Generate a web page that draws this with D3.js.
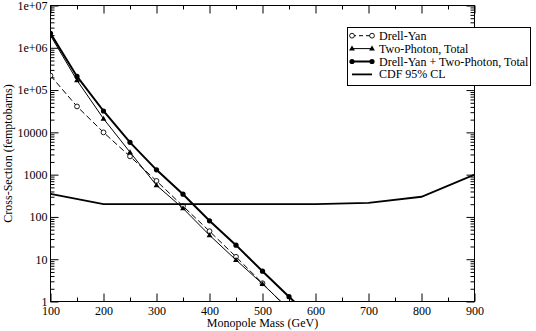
<!DOCTYPE html>
<html>
<head>
<meta charset="utf-8">
<script src="https://cdn.jsdelivr.net/npm/d3@7"></script>
<style>
  body { margin: 0; background: #fff; }
  svg { display: block; }
  text { font-family: "Liberation Serif", "Times New Roman", serif; font-size: 12px; fill: #000; }
</style>
</head>
<body>
<div class="chart"></div>
<script>
const width = 536,
      height = 331;

// monopole masses (GeV) and cross-sections (fb)
const masses    = [100, 150, 200, 250, 300, 350, 400, 450, 500, 550, 600];
const drellYan  = [2.2e5, 4.1e4, 1.0e4, 2.7e3, 710, 180, 46, 11.4, 2.7, 0.62];
const twoPhoton = [1.95e6, 1.7e5, 2.1e4, 3.4e3, 560, 160, 37, 9.6, 2.6, 0.66];
const combined  = [2.2e6, 2.1e5, 3.2e4, 5.8e3, 1.3e3, 345, 81, 21.5, 5.2, 1.3, 0.33];

const cdfMass  = [100, 200, 300, 400, 500, 600, 700, 800, 900];
const cdfLimit = [350, 200, 200, 200, 200, 200, 215, 300, 1000];

const xTicks = [100, 200, 300, 400, 500, 600, 700, 800, 900];
const yTicks = [1, 10, 100, 1000, 1e4, 1e5, 1e6, 1e7];
const legendLabels = ["Drell-Yan", "Two-Photon, Total", "Drell-Yan + Two-Photon, Total", "CDF 95% CL"];

const pLeft = 50.5, pRight = 474.5, pTop = 5.5, pBottom = 301.5;

const x = d3.scaleLinear().domain([100, 900]).range([pLeft, pRight]);
const y = d3.scaleLog().domain([1, 1e7]).range([pBottom, pTop]);

const svg = d3.select(".chart").append("svg")
  .attr("width", width)
  .attr("height", height);

svg.append("rect").attr("width", width).attr("height", height).attr("fill", "#fff");

svg.append("clipPath").attr("id", "plotclip")
  .append("rect")
  .attr("x", pLeft).attr("y", pTop)
  .attr("width", pRight - pLeft).attr("height", pBottom - pTop);

// minor ticks
const xMinor = d3.range(150, 900, 100);
const yMinor = [];
for (let e = 0; e < 7; e++) for (let k = 2; k <= 9; k++) yMinor.push(k * Math.pow(10, e));

function tickAxis(axis, transform) {
  const g = svg.append("g").attr("transform", transform).call(axis);
  g.attr("font-family", null).attr("font-size", null);
  g.select(".domain").remove();
  g.selectAll("line").attr("stroke", "#000");
  return g;
}

const yFormat = d => d >= 1e5 ? "1e+" + String(Math.round(Math.log10(d))).padStart(2, "0") : String(d);

// bottom
tickAxis(d3.axisBottom(x).tickValues(xTicks).tickSize(-8).tickPadding(5).tickFormat(d3.format("d")), `translate(0,${pBottom})`);
tickAxis(d3.axisBottom(x).tickValues(xMinor).tickSize(-4).tickFormat(""), `translate(0,${pBottom})`);
// top
tickAxis(d3.axisTop(x).tickValues(xTicks).tickSize(-8).tickFormat(""), `translate(0,${pTop})`);
tickAxis(d3.axisTop(x).tickValues(xMinor).tickSize(-4).tickFormat(""), `translate(0,${pTop})`);
// left
tickAxis(d3.axisLeft(y).tickValues(yTicks).tickSize(-8).tickPadding(3).tickFormat(yFormat), `translate(${pLeft},0)`);
tickAxis(d3.axisLeft(y).tickValues(yMinor).tickSize(-4).tickFormat(""), `translate(${pLeft},0)`);
// right
tickAxis(d3.axisRight(y).tickValues(yTicks).tickSize(-8).tickFormat(""), `translate(${pRight},0)`);
tickAxis(d3.axisRight(y).tickValues(yMinor).tickSize(-4).tickFormat(""), `translate(${pRight},0)`);

svg.append("rect")
  .attr("x", pLeft).attr("y", pTop)
  .attr("width", pRight - pLeft).attr("height", pBottom - pTop)
  .attr("fill", "none").attr("stroke", "#000");

// series
const plot = svg.append("g").attr("clip-path", "url(#plotclip)");
const line = d3.line().x(d => x(d[0])).y(d => y(d[1]));
const pairs = (xs, ys) => ys.map((v, i) => [xs[i], v]);

const series = [
  { data: pairs(masses, drellYan), width: 1, dash: "6,3", symbol: "open" },
  { data: pairs(masses, twoPhoton), width: 1, dash: null, symbol: "triangle" },
  { data: pairs(masses, combined), width: 2, dash: null, symbol: "dot" },
  { data: pairs(cdfMass, cdfLimit), width: 1.8, dash: null, symbol: null }
];

function drawSymbol(g, type, cx, cy) {
  if (type === "open") {
    g.append("circle").attr("cx", cx).attr("cy", cy).attr("r", 2.4)
      .attr("fill", "#fff").attr("stroke", "#000").attr("stroke-width", 0.9);
  } else if (type === "dot") {
    g.append("circle").attr("cx", cx).attr("cy", cy).attr("r", 2.6).attr("fill", "#000");
  } else if (type === "triangle") {
    g.append("path").attr("d", `M${cx},${cy - 3}L${cx + 2.9},${cy + 2}L${cx - 2.9},${cy + 2}Z`).attr("fill", "#000");
  }
}

series.forEach(s => {
  plot.append("path")
    .attr("d", line(s.data))
    .attr("fill", "none")
    .attr("stroke", "#000")
    .attr("stroke-width", s.width)
    .attr("stroke-dasharray", s.dash);
  if (s.symbol) s.data.forEach(d => drawSymbol(plot, s.symbol, x(d[0]), y(d[1])));
});

// axis titles
svg.append("text")
  .attr("x", (pLeft + pRight) / 2).attr("y", 327)
  .attr("text-anchor", "middle")
  .text("Monopole Mass (GeV)");

svg.append("text")
  .attr("transform", `translate(12,${(pTop + pBottom) / 2}) rotate(-90)`)
  .attr("text-anchor", "middle")
  .text("Cross-Section (femptobarns)");

// legend
const legend = svg.append("g");
legend.append("rect")
  .attr("x", 347.5).attr("y", 27.5).attr("width", 183).attr("height", 58)
  .attr("fill", "#fff").attr("stroke", "#000");

legendLabels.forEach((label, i) => {
  const cy = 35.7 + i * 12.9;
  const s = series[i];
  legend.append("line")
    .attr("x1", 352).attr("x2", 372).attr("y1", cy).attr("y2", cy)
    .attr("stroke", "#000").attr("stroke-width", s.width)
    .attr("stroke-dasharray", s.dash ? "4,3" : null);
  if (s.symbol) { drawSymbol(legend, s.symbol, 352, cy); drawSymbol(legend, s.symbol, 372, cy); }
  legend.append("text").attr("x", 379).attr("y", cy + 4).text(label);
});
</script>
</body>
</html>
